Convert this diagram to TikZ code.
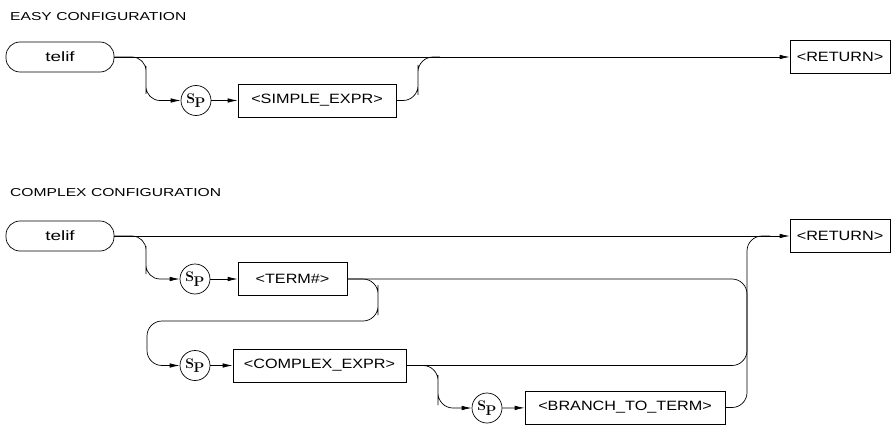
\documentclass[tikz,border=0pt]{standalone}
\usepackage{fontspec}
\usepackage{graphicx}
\newfontfamily\labfont{Liberation Sans}
\usetikzlibrary{arrows.meta}
\newcommand{\lbl}[1]{{\labfont\fontsize{13.5}{13.5}\selectfont\scalebox{1.2}[1]{#1}}}
\newcommand{\kwtxt}[1]{{\labfont\fontsize{13.5}{13.5}\selectfont\scalebox{1.4}[1]{#1}}}
\newcommand{\ttl}[1]{{\labfont\fontsize{11.5}{11.5}\selectfont\scalebox{1.36}[1]{#1}}}
\newcommand{\spsym}{{\fontsize{14}{14}\selectfont\bfseries S\kern-0.5pt\raisebox{-4.5pt}{P}}}
\begin{document}
\begin{tikzpicture}[x=1pt,y=-1pt,
  line/.style={line width=0.7pt},
  arr/.style={line width=0.7pt, -{Latex[length=10pt,width=4.5pt]}},
  curve/.style={line width=0.7pt, rounded corners=15pt},
  kw/.style={draw, line width=0.7pt, rounded corners=14pt, minimum width=108pt, minimum height=30pt, inner sep=0pt},
  box/.style={draw, line width=0.7pt, minimum height=33pt, inner sep=0pt},
  spc/.style={draw, circle, line width=0.7pt, minimum size=30pt, inner sep=0pt},
  title/.style={anchor=west, inner sep=0pt}]
\useasboundingbox (0,0) rectangle (891,425);

% ---------- EASY ----------
\node[title] (t1) at (10,17) {\ttl{EASY CONFIGURATION}};
\node[kw] (k1) at (60,57) {\kwtxt{telif}};
\node[box, minimum width=100pt] (r1) at (840,57) {\lbl{<RETURN>}};
\node[spc] (s1) at (196,100.5) {\spsym};
\node[box, minimum width=158pt] (se) at (317,100.5) {\lbl{<SIMPLE\_EXPR>}};
\coordinate (j1) at (440,57);

\draw[arr] (k1.east) -- (r1.west);
\draw[arr, rounded corners=14pt] (k1.east) -| (146,80) |- (s1.west);
\draw[arr] (s1) -- (se);
\draw[curve] (se.east) -| (418,80) |- (j1);

% ---------- COMPLEX ----------
\node[title] (t2) at (10,193) {\ttl{COMPLEX CONFIGURATION}};
\node[kw] (k2) at (60,236) {\kwtxt{telif}};
\node[box, minimum width=100pt] (r2) at (840,236) {\lbl{<RETURN>}};
\node[spc] (s2) at (195,279) {\spsym};
\node[box, minimum width=109pt] (tm) at (292.5,279) {\lbl{<TERM\#>}};
\node[spc] (s3) at (195,365.5) {\spsym};
\node[box, minimum width=173pt] (ce) at (319.5,365.5) {\lbl{<COMPLEX\_EXPR>}};
\node[spc] (s4) at (487,408) {\spsym};
\node[box, minimum width=200pt] (bt) at (625,407.5) {\lbl{<BRANCH\_TO\_TERM>}};
\coordinate (j2) at (770,236);

\draw[arr] (k2.east) -- (r2.west);
\draw[arr, rounded corners=14pt] (k2.east) -| (146,260) |- (s2.west);
\draw[arr] (s2) -- (tm);
\draw[curve] (tm.east) -| (747,300);
\draw[arr, rounded corners=15pt] (tm.east) -| (378,300) |- (147,321) |- (s3.west);
\draw[arr] (s3) -- (ce);
\draw[curve] (ce.east) -| (747,300);
\draw[arr, rounded corners=15pt] (ce.east) -| (438,390) |- (s4.west);
\draw[arr] (s4) -- (bt);
\draw[curve] (bt.east) -| (747,300) |- (j2);
\end{tikzpicture}
\end{document}
